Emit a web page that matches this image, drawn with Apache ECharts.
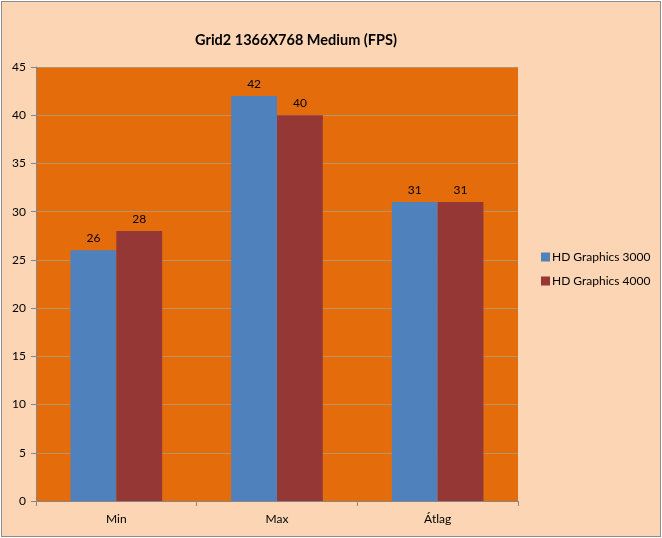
<html>

<head>
    <script src="https://cdn.jsdelivr.net/npm/echarts@6/dist/echarts.min.js"></script>
    <style>
        body {
            margin: 0;
            background: #fff;
        }

        #graph {
            position: absolute;
            left: 1px;
            top: 1px;
            width: 658px;
            height: 534px;
            border: 1px solid #8c8c8c;
            background: #fcd5b4;
        }
    </style>
</head>

<body>
    <div id="graph"></div>
    <script>
        var categories = ['Min', 'Max', 'Átlag'];
        var hd3000 = [26, 42, 31];
        var hd4000 = [28, 40, 31];
        var seriesNames = ['HD Graphics 3000', 'HD Graphics 4000'];

        var font = 'Lato, "Open Sans", sans-serif';
        var chart = echarts.init(document.getElementById('graph'));

        var labelOpt = {
            show: true,
            position: 'top',
            distance: 6,
            color: '#000',
            fontSize: 12,
            fontFamily: font
        };

        var option = {
            animation: false,
            title: {
                text: 'Grid2 1366X768 Medium (FPS)',
                left: 289,
                textAlign: 'center',
                top: 26,
                textStyle: { fontSize: 14.5, fontWeight: 'bold', color: '#000', fontFamily: font }
            },
            legend: {
                orient: 'vertical',
                left: 534,
                top: 244,
                itemWidth: 9,
                itemHeight: 9,
                itemGap: 12,
                icon: 'rect',
                textStyle: { fontSize: 12, color: '#000', fontFamily: font, padding: [0, 0, 0, -3] },
                data: seriesNames
            },
            grid: {
                left: 34,
                top: 65,
                width: 482,
                height: 434,
                show: true,
                backgroundColor: '#e46c0a',
                borderWidth: 0
            },
            xAxis: {
                type: 'category',
                data: categories,
                axisLine: { lineStyle: { color: '#868686' } },
                axisTick: { show: true, length: 5, lineStyle: { color: '#868686' } },
                axisLabel: { color: '#000', fontSize: 12, fontFamily: font, margin: 12 }
            },
            yAxis: {
                type: 'value',
                min: 0,
                max: 45,
                interval: 5,
                axisLine: { show: true, lineStyle: { color: '#868686' } },
                axisTick: { show: true, length: 5, lineStyle: { color: '#868686' } },
                axisLabel: { color: '#000', fontSize: 12, fontFamily: font, margin: 10 },
                splitLine: { lineStyle: { color: '#b4946c', width: 1 } }
            },
            series: [{
                name: seriesNames[0],
                type: 'bar',
                data: hd3000,
                barGap: '0%',
                barCategoryGap: '43%',
                itemStyle: { color: '#4f81bd' },
                label: labelOpt
            }, {
                name: seriesNames[1],
                type: 'bar',
                data: hd4000,
                itemStyle: { color: '#953735' },
                label: labelOpt
            }]
        };

        chart.setOption(option);
    </script>
</body>

</html>
